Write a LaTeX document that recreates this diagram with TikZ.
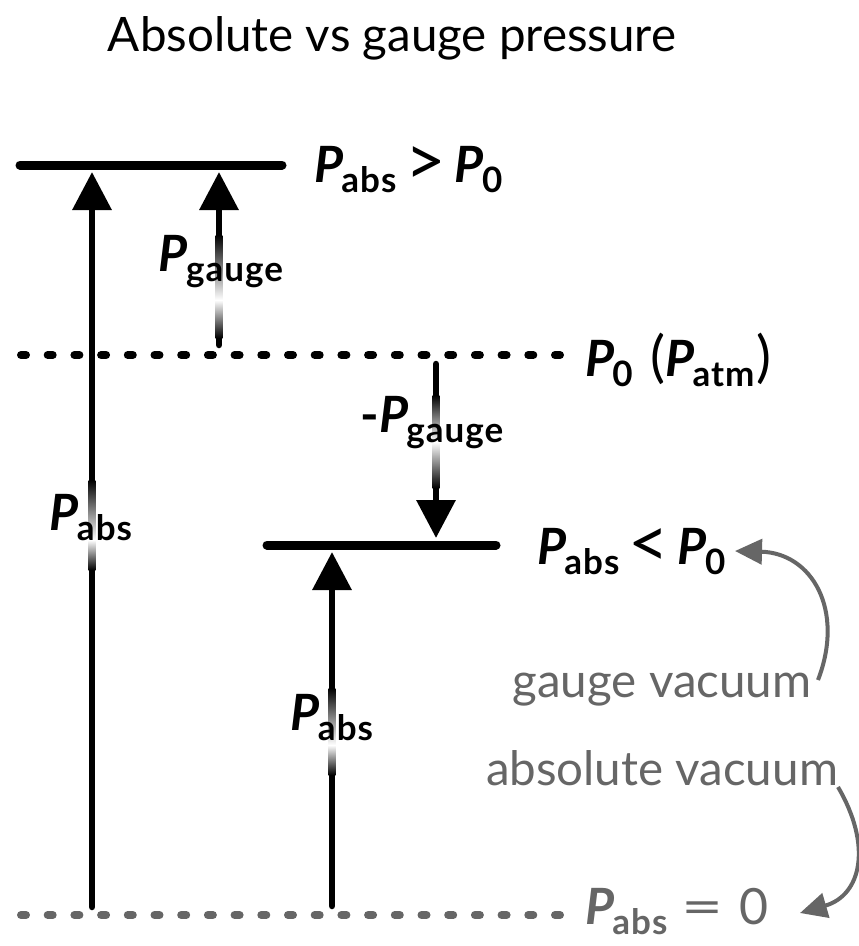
\documentclass[tikz,border=0pt]{standalone}
\usepackage{fontspec}
\setmainfont{Lato}
\usetikzlibrary{arrows.meta}
\definecolor{gry}{HTML}{666666}
\newcommand{\Psub}[1]{{\bfseries\itshape P}\kern-0.04em\raisebox{-0.2em}{\fontsize{35}{35}\selectfont\bfseries\addfontfeatures{LetterSpace=3}#1}}
\newcommand{\Rel}[1]{\hspace{9pt}\raisebox{-3pt}{\scalebox{1.4}{\fontsize{50}{50}\selectfont #1}}\hspace{9pt}}
\begin{document}
\begin{tikzpicture}[x=1pt,y=-1pt,
  lvl/.style={line width=9pt,line cap=round},
  dotl/.style={line width=8pt,line cap=round,dash pattern=on 5pt off 21.7pt},
  arr/.style={line width=6.5pt,line cap=round,-{Triangle[width=38pt,length=38pt]}},
  garr/.style={gry,line width=4pt,-{Triangle[width=25pt,length=27pt]}},
  lab/.style={font=\fontsize{50}{54}\selectfont, inner sep=0pt},
  glab/.style={text=gry,font=\fontsize{47.5}{52}\selectfont, inner sep=0pt}]
\useasboundingbox (0,0) rectangle (859,946);
% title
\node[font=\fontsize{47.5}{52}\selectfont, inner sep=0pt] (title) at (392,38) {Absolute vs gauge pressure};
% levels
\coordinate (t1) at (20,165); \coordinate (t2) at (282,165);
\coordinate (a1) at (21,355); \coordinate (a2) at (562,355);
\coordinate (m1) at (267,545); \coordinate (m2) at (496,545);
\coordinate (z1) at (21,915); \coordinate (z2) at (562,915);
\draw[lvl] (t1) -- (t2);
\draw[lvl] (m1) -- (m2);
\draw[dotl] (a1) -- (a2);
\draw[dotl,gry] (z1) -- (z2);
% arrows
\coordinate (p1s) at (92,907); \coordinate (p1e) at (92,172);
\coordinate (g1s) at (219,345); \coordinate (g1e) at (219,172);
\coordinate (g2s) at (436,364); \coordinate (g2e) at (436,538);
\coordinate (p2s) at (332,906); \coordinate (p2e) at (332,552);
\draw[arr] (p1s) -- (p1e);
\draw[arr] (g1s) -- (g1e);
\draw[arr] (g2s) -- (g2e);
\draw[arr] (p2s) -- (p2e);
% fades on arrows
\shade[top color=black,bottom color=white] (88.6,480) rectangle (95.4,540);
\shade[top color=white,bottom color=black] (88.6,540) rectangle (95.4,570);
\shade[top color=black,bottom color=white] (215.6,235) rectangle (222.4,300);
\shade[top color=white,bottom color=black] (215.6,300) rectangle (222.4,338);
\shade[top color=black,bottom color=white] (432.6,395) rectangle (439.4,442);
\shade[top color=white,bottom color=black] (432.6,442) rectangle (439.4,488);
\shade[top color=black,bottom color=white] (328.6,688) rectangle (335.4,745);
\shade[top color=white,bottom color=black] (328.6,745) rectangle (335.4,775);
% arrow labels
\node[lab] (lp1) at (91,518) {\Psub{abs}};
\node[lab] (lg1) at (221,262) {\Psub{gauge}};
\node[lab] (lg2) at (432,423) {\textbf{-}\Psub{gauge}};
\node[lab] (lp2) at (332,718) {\Psub{abs}};
% level labels
\node[lab,anchor=west] (ltop) at (314,170) {\Psub{abs}\Rel{>}\Psub{0}};
\node[lab,anchor=west] (latm) at (585,360) {\Psub{0}\hspace{18pt}{\fontsize{56}{56}\selectfont(}\Psub{atm}\kern2pt{\fontsize{56}{56}\selectfont)}};
\node[lab,anchor=west] (lmid) at (537,552) {\Psub{abs}\Rel{<}\Psub{0}};
\node[lab,anchor=west,text=gry] (lzero) at (585,912) {\Psub{abs}\hspace{14pt}{\fontsize{50}{50}\selectfont\scalebox{1.45}[1]{=}\hspace{16pt}0}};
% vacuum labels
\node[glab] (gv) at (662,690) {gauge vacuum};
\node[glab] (av) at (662,768) {absolute vacuum};
\coordinate (c1s) at (818,680); \coordinate (c1e) at (735,551);
\coordinate (c2s) at (838,787); \coordinate (c2e) at (800,913);
\draw[garr] (c1s) .. controls (845,610) and (812,553) .. (c1e);
\draw[garr] (c2s) .. controls (872,845) and (862,895) .. (c2e);
\end{tikzpicture}
\end{document}
